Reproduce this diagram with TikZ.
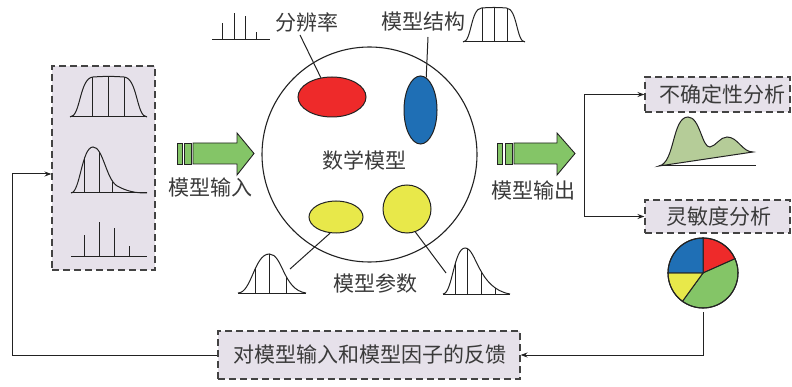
\documentclass[tikz,border=0pt]{standalone}
\usepackage{fontspec}
\newfontfamily\cjk{Noto Sans CJK SC}
\usetikzlibrary{arrows.meta,shapes.geometric}
\definecolor{boxfill}{HTML}{E6E1EA}
\definecolor{redc}{HTML}{EE2A2A}
\definecolor{bluec}{HTML}{1F6FB5}
\definecolor{yellowc}{HTML}{E8E84A}
\definecolor{greenc}{HTML}{84C567}
\definecolor{olivec}{HTML}{B5CC98}
\definecolor{inkc}{HTML}{222222}
\definecolor{txtc}{HTML}{3A3A3A}
\tikzset{
  lbl/.style={font=\cjk\fontsize{21}{24}\selectfont, text=txtc, inner sep=0},
  dbox/.style={draw=inkc!85, fill=boxfill, line width=1.1pt, dash pattern=on 7pt off 4pt, inner sep=0},
  ln/.style={draw=inkc, line width=1pt},
  arr/.style={ln, -{Stealth[length=7pt,width=5pt]}},
  blob/.style={draw=inkc, line width=1pt, inner sep=0},
  garrow/.style={fill=greenc, draw=inkc, line width=0.9pt},
  curve/.style={draw=inkc, line width=1pt},
}
% unit-shape curves: baseline y=0, peak y=-1, x from 0 to 1
\newcommand{\plateaupath}{(0,0) .. controls (0.14,0) and (0.12,-0.98) .. (0.3,-1) .. controls (0.45,-1.02) and (0.55,-1.02) .. (0.7,-1) .. controls (0.88,-0.98) and (0.86,0) .. (1,0)}
\newcommand{\skewpath}{(0,0) .. controls (0.12,0) and (0.14,-1) .. (0.29,-1) .. controls (0.42,-1) and (0.46,-0.32) .. (0.6,-0.16) .. controls (0.74,-0.03) and (0.85,0) .. (1,0)}
\newcommand{\bellpath}{(0,0) .. controls (0.2,0) and (0.24,-1) .. (0.46,-1) .. controls (0.66,-1) and (0.66,-0.08) .. (1,0)}
\newcommand{\rbellpath}{(0,0) .. controls (0.14,0) and (0.16,-1) .. (0.33,-1) .. controls (0.5,-1) and (0.52,-0.12) .. (1,0)}
% #1 path, #2 x0, #3 baseline y, #4 width, #5 height, #6 list of fractions
\newcommand{\distcurve}[6]{%
  \begin{scope}[shift={(#2,#3)}, xscale=#4, yscale=#5]
    \begin{scope}
      \clip #1 -- cycle;
      \foreach \f in {#6} { \draw[curve] (\f,0.05) -- (\f,-1.2); }
    \end{scope}
    \draw[curve] #1;
    \draw[curve] (0,0) -- (1,0);
  \end{scope}}
\begin{document}
\begin{tikzpicture}[x=1pt,y=-1pt]
\useasboundingbox (0,0) rectangle (792,387);

% input box
\node[dbox, minimum width=103, minimum height=204] (inbox) at (103.5,168) {};
\distcurve{\plateaupath}{70}{117}{77}{40}{0.29,0.5,0.71}
\distcurve{\skewpath}{71}{193}{76}{46}{0.18,0.37,0.55,0.78}
\begin{scope}
  \draw[curve] (71,257) -- (147,257);
  \draw[curve] (84,257) -- (84,235);
  \draw[curve] (99,257) -- (99,222);
  \draw[curve] (114,257) -- (114,228);
  \draw[curve] (129,257) -- (129,246);
\end{scope}

% green arrows
\fill[garrow] (177,143) rectangle (182,164);
\fill[garrow] (184,143) rectangle (191,164);
\filldraw[garrow] (193,143) -- (237,143) -- (237,133) -- (254,153.5) -- (237,175) -- (237,164) -- (193,164) -- cycle;
\node[lbl] (inlbl) at (210,187) {模型输入};
\filldraw[garrow] (497,143) rectangle (502,164);
\filldraw[garrow] (505,143) rectangle (512,164);
\filldraw[garrow] (514,143) -- (557,143) -- (557,133) -- (575,153.5) -- (557,175) -- (557,164) -- (514,164) -- cycle;
\node[lbl] (outlbl) at (533,190) {模型输出};
\fill[garrow] (177,143) rectangle (182,164);
\draw[garrow,fill=none] (177,143) rectangle (182,164);
\draw[garrow,fill=none] (184,143) rectangle (191,164);

% model circle
\node[circle, draw=inkc, line width=1.1pt, minimum size=215, inner sep=0] (model) at (369.5,154.5) {};
\node[lbl] (mlbl) at (364,160) {数学模型};
\node[blob, ellipse, fill=redc, minimum width=68, minimum height=40] (red) at (332,97) {};
\node[blob, ellipse, fill=bluec, minimum width=33, minimum height=68] (blue) at (420.5,110) {};
\node[blob, ellipse, fill=yellowc, minimum width=54, minimum height=32] (ya) at (336,217) {};
\node[blob, circle, fill=yellowc, minimum size=48] (yb) at (407,209) {};

% labels above
\node[lbl] (res) at (307,22) {分辨率};
\node[lbl] (struct) at (423.5,22) {模型结构};
\coordinate (resfoot) at (300,35);
\coordinate (structfoot) at (428,37);
\draw[ln] (resfoot) -- (red.120);
\draw[ln] (structfoot) -- (blue.80);
% top-left stems
\draw[curve] (212,40) -- (270,40);
\draw[curve] (222,40) -- (222,23);
\draw[curve] (234,40) -- (234,13);
\draw[curve] (245,40) -- (245,16);
\draw[curve] (256,40) -- (256,32);
% top-right plateau
\distcurve{\plateaupath}{463}{42}{62}{34}{0.31,0.5,0.71}

% parameters
\node[lbl] (par) at (375.5,283) {模型参数};
\distcurve{\bellpath}{238}{293}{68}{39}{0.25,0.46,0.71}
\distcurve{\rbellpath}{443}{294}{67}{46}{0.19,0.36,0.57,0.78}
\coordinate (pa) at (290,269);
\coordinate (pb) at (446,273);
\draw[ln] (ya.250) -- (pa);
\draw[ln] (yb.-70) -- (pb);

% analysis boxes
\node[dbox, minimum width=145, minimum height=35] (unc) at (717.5,94.5) {};
\node[lbl] at (722,94.5) {不确定性分析};
\node[dbox, minimum width=145, minimum height=33] (sens) at (717.5,216.5) {};
\node[lbl] at (719,216.5) {灵敏度分析};
\coordinate (rv) at (584,0);
\draw[ln, {Stealth[length=7pt,width=5pt]}-{Stealth[length=7pt,width=5pt]}] (unc.west) -- (unc.west -| rv) -- (sens.west -| rv) -- (sens.west);

% density
\filldraw[fill=olivec, draw=inkc, line width=1pt] (659,166) .. controls (675,163) and (672,117) .. (688,117) .. controls (700,117) and (702,148) .. (710,147) .. controls (716,146) and (720,137) .. (727,137) .. controls (738,137) and (742,152) .. (753,152) -- cycle;
\draw[curve] (659,166) -- (756,166);

% pie
\node[circle, minimum size=70, inner sep=0] (pie) at (703,273) {};
\begin{scope}[shift={(703,273)}, y=1pt]
  \filldraw[fill=redc, draw=inkc, line width=1pt] (0,0) -- (90:35) arc[start angle=90, end angle=24, radius=35] -- cycle;
  \filldraw[fill=greenc, draw=inkc, line width=1pt] (0,0) -- (24:35) arc[start angle=24, end angle=-126, radius=35] -- cycle;
  \filldraw[fill=yellowc, draw=inkc, line width=1pt] (0,0) -- (-126:35) arc[start angle=-126, end angle=-180, radius=35] -- cycle;
  \filldraw[fill=bluec, draw=inkc, line width=1pt] (0,0) -- (180:35) arc[start angle=180, end angle=90, radius=35] -- cycle;
  \draw[inkc, line width=1.1pt] (0,0) circle[radius=35];
\end{scope}

% feedback
\node[dbox, minimum width=302, minimum height=48] (fb) at (369,355) {};
\node[lbl] at (369.5,355) {对模型输入和模型因子的反馈};
\draw[arr, shorten <=4pt] (pie.south) |- (fb.east);
\coordinate (lc) at (12,174);
\draw[arr] (fb.west) -| (lc) -- (lc -| inbox.west);
\end{tikzpicture}
\end{document}
